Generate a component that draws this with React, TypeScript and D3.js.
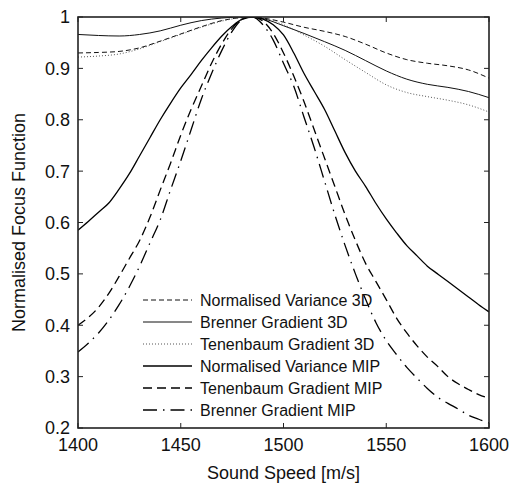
import React from "react";
import * as d3 from "d3";

// sound speeds for the 3D curves (coarser sampling) and the MIP curves
const speeds3D = [1400, 1410, 1420, 1430, 1440, 1450, 1460, 1470, 1480, 1485, 1490, 1500, 1510, 1520, 1530, 1540, 1550, 1560, 1570, 1580, 1590, 1600];
const normVar3D = [0.93, 0.931, 0.933, 0.94, 0.953, 0.967, 0.981, 0.993, 0.999, 1.0, 0.998, 0.99, 0.98, 0.972, 0.962, 0.947, 0.93, 0.917, 0.91, 0.905, 0.897, 0.881];
const brenner3D = [0.966, 0.964, 0.963, 0.966, 0.973, 0.984, 0.993, 0.998, 1.0, 1.0, 0.997, 0.983, 0.968, 0.952, 0.935, 0.915, 0.895, 0.879, 0.869, 0.863, 0.855, 0.843];
const tenenbaum3D = [0.922, 0.924, 0.928, 0.938, 0.952, 0.966, 0.98, 0.992, 0.999, 1.0, 0.997, 0.985, 0.965, 0.943, 0.917, 0.892, 0.868, 0.853, 0.845, 0.838, 0.829, 0.815];

const speedsMIP = [1400, 1405, 1410, 1415, 1420, 1425, 1430, 1435, 1440, 1445, 1450, 1455, 1460, 1465, 1470, 1475, 1480, 1485, 1490, 1495, 1500, 1505, 1510, 1515, 1520, 1525, 1530, 1535, 1540, 1545, 1550, 1555, 1560, 1565, 1570, 1575, 1580, 1585, 1590, 1595, 1600];
const normVarMIP = [0.585, 0.602, 0.62, 0.638, 0.665, 0.695, 0.73, 0.765, 0.8, 0.832, 0.862, 0.888, 0.915, 0.94, 0.963, 0.982, 0.996, 1.0, 0.996, 0.985, 0.965, 0.93, 0.89, 0.855, 0.82, 0.778, 0.736, 0.7, 0.67, 0.637, 0.607, 0.58, 0.555, 0.535, 0.515, 0.5, 0.485, 0.47, 0.455, 0.44, 0.426];
const tenenbaumMIP = [0.4, 0.415, 0.435, 0.462, 0.495, 0.53, 0.565, 0.61, 0.663, 0.715, 0.77, 0.82, 0.865, 0.91, 0.948, 0.978, 0.996, 1.0, 0.992, 0.968, 0.93, 0.885, 0.835, 0.78, 0.725, 0.67, 0.615, 0.565, 0.52, 0.485, 0.45, 0.414, 0.385, 0.36, 0.338, 0.32, 0.3, 0.286, 0.275, 0.265, 0.258];
const brennerMIP = [0.348, 0.365, 0.385, 0.41, 0.44, 0.475, 0.515, 0.56, 0.605, 0.663, 0.72, 0.78, 0.84, 0.89, 0.935, 0.972, 0.995, 1.0, 0.985, 0.955, 0.91, 0.865, 0.805, 0.745, 0.68, 0.615, 0.555, 0.5, 0.45, 0.405, 0.37, 0.343, 0.318, 0.297, 0.277, 0.26, 0.248, 0.237, 0.225, 0.217, 0.21];

const xTicks = [1400, 1450, 1500, 1550, 1600];
const yTicks = [0.2, 0.3, 0.4, 0.5, 0.6, 0.7, 0.8, 0.9, 1];

const series = [
  { name: "Normalised Variance 3D", xs: speeds3D, ys: normVar3D, dash: "5,3", width: 1, color: "#111" },
  { name: "Brenner Gradient 3D", xs: speeds3D, ys: brenner3D, dash: "none", width: 1, color: "#111" },
  { name: "Tenenbaum Gradient 3D", xs: speeds3D, ys: tenenbaum3D, dash: "1,2", width: 1, color: "#555" },
  { name: "Normalised Variance MIP", xs: speedsMIP, ys: normVarMIP, dash: "none", width: 1.3, color: "#000" },
  { name: "Tenenbaum Gradient MIP", xs: speedsMIP, ys: tenenbaumMIP, dash: "9,5", width: 1.3, color: "#000" },
  { name: "Brenner Gradient MIP", xs: speedsMIP, ys: brennerMIP, dash: "14,6,1.5,6", width: 1.3, color: "#000" },
];

const W = 511;
const H = 484;
const margin = { left: 78, right: 22, top: 17, bottom: 56 };
const FONT = "Liberation Sans, Arial, Helvetica, sans-serif";

const App = () => {
  const x = d3.scaleLinear().domain([1400, 1600]).range([margin.left, W - margin.right]);
  const y = d3.scaleLinear().domain([0.2, 1]).range([H - margin.bottom, margin.top]);
  const [x0, x1] = x.range();
  const [y0, y1] = y.range();

  const line = d3
    .line<[number, number]>()
    .x((d) => x(d[0]))
    .y((d) => y(d[1]))
    .curve(d3.curveMonotoneX);

  const legendX = 143;
  const legendY = 300;
  const legendStep = 22;

  return (
    <svg width={W} height={H} style={{ position: "absolute", left: 0, top: 0 }} fontFamily={FONT}>
      <rect width={W} height={H} fill="#fff" />
      <defs>
        <clipPath id="plot">
          <rect x={x0} y={y1} width={x1 - x0} height={y0 - y1} />
        </clipPath>
      </defs>

      <g clipPath="url(#plot)">
        {series.map((s) => (
          <path
            key={s.name}
            d={line(s.xs.map((v, i) => [v, s.ys[i]] as [number, number])) || ""}
            fill="none"
            stroke={s.color}
            strokeWidth={s.width}
            strokeDasharray={s.dash}
          />
        ))}
      </g>

      {/* ticks, inward on all four sides */}
      {xTicks.map((t) => (
        <g key={"x" + t}>
          <line x1={x(t)} x2={x(t)} y1={y0} y2={y0 - 5} stroke="#222" />
          <line x1={x(t)} x2={x(t)} y1={y1} y2={y1 + 5} stroke="#222" />
          <text x={x(t)} y={y0 + 23} textAnchor="middle" fontSize={18} fill="#111">
            {t}
          </text>
        </g>
      ))}
      {yTicks.map((t) => (
        <g key={"y" + t}>
          <line x1={x0} x2={x0 + 5} y1={y(t)} y2={y(t)} stroke="#222" />
          <line x1={x1} x2={x1 - 5} y1={y(t)} y2={y(t)} stroke="#222" />
          <text x={x0 - 8} y={y(t)} dy="0.36em" textAnchor="end" fontSize={18} fill="#111">
            {t}
          </text>
        </g>
      ))}

      <rect x={x0} y={y1} width={x1 - x0} height={y0 - y1} fill="none" stroke="#222" strokeWidth={1.6} />

      {/* legend */}
      {series.map((s, i) => (
        <g key={"lg" + s.name} transform={`translate(${legendX},${legendY + i * legendStep})`}>
          <line x1={0} x2={49} y1={0} y2={0} stroke={s.color} strokeWidth={s.width} strokeDasharray={s.dash} />
          <text x={57} y={0} dy="0.36em" fontSize={16} fill="#111">
            {s.name}
          </text>
        </g>
      ))}

      <text x={(x0 + x1) / 2} y={479} textAnchor="middle" fontSize={18} fill="#111">
        Sound Speed [m/s]
      </text>
      <text
        transform={`translate(25,${(y0 + y1) / 2}) rotate(-90)`}
        textAnchor="middle"
        fontSize={18}
        fill="#111"
      >
        Normalised Focus Function
      </text>
    </svg>
  );
};

export default App;
